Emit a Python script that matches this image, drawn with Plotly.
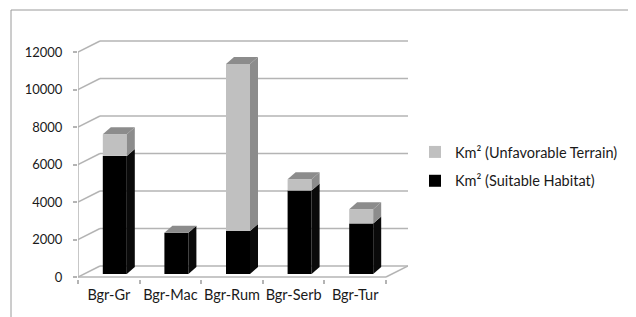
import plotly.graph_objects as go

# ---------------- data ----------------
categories = ["Bgr-Gr", "Bgr-Mac", "Bgr-Rum", "Bgr-Serb", "Bgr-Tur"]
suitable = [6300, 2200, 2300, 4450, 2700]
unfavorable = [1150, 0, 8900, 600, 750]
y_ticks = [0, 2000, 4000, 6000, 8000, 10000, 12000]
series_names = ["Km² (Suitable Habitat)", "Km² (Unfavorable Terrain)"]

# ---------------- geometry (pseudo 3-D) ----------------
PX_PER_CAT = 61.6
PX_PER_UNIT_Y = 225 / 12000


def dxp(px):
    return px / PX_PER_CAT


def dyp(px):
    return px / PX_PER_UNIT_Y


WALL_DX, WALL_DY = dxp(22), dyp(11)
BAR_OFF_X, BAR_OFF_Y = dxp(6), dyp(3)
BAR_W = dxp(24)
DEPTH_X, DEPTH_Y = dxp(8), dyp(7)

PAGE = 8  # page body offset
W, H = 636 - PAGE, 317 - PAGE
ML, MT = 78 - PAGE, 39 - PAGE
plot_w, plot_h = 330, 240
MR = W - ML - plot_w
MB = H - MT - plot_h
x_range = [-0.5, -0.5 + plot_w / PX_PER_CAT]
y_bottom = -dyp(2)
y_range = [y_bottom, y_bottom + dyp(plot_h)]


def px_to_paper_x(px):
    return (px - PAGE - ML) / plot_w


def px_to_paper_y(py):
    return (MT + plot_h - (py - PAGE)) / plot_h


idx = list(range(len(categories)))

BLACK = "#000000"
GRAY = "#c0c0c0"
GRAY_DARK = "#8c8c8c"
GRID = "#b4b4b4"
TEXT = "#1a1a1a"
FONT = "Lato, 'Open Sans', sans-serif"

fig = go.Figure()
fig.add_trace(go.Bar(
    x=idx, y=suitable, base=[BAR_OFF_Y] * len(idx), width=BAR_W,
    offset=BAR_OFF_X - BAR_W / 2, marker=dict(color=BLACK, line=dict(width=0)),
    name=series_names[0], legendgroup="a", legendrank=2,
))
fig.add_trace(go.Bar(
    x=idx, y=unfavorable, base=[BAR_OFF_Y + s for s in suitable], width=BAR_W,
    offset=BAR_OFF_X - BAR_W / 2, marker=dict(color=GRAY, line=dict(width=0)),
    name=series_names[1], legendgroup="b", legendrank=1,
))

shapes = []
# back wall gridlines + connectors
for v in y_ticks:
    shapes.append(dict(type="line", xref="x", yref="y", layer="below",
                       x0=-0.5 + WALL_DX, x1=len(idx) - 0.5 + WALL_DX,
                       y0=v + WALL_DY, y1=v + WALL_DY,
                       line=dict(color=GRID, width=1.5)))
    shapes.append(dict(type="line", xref="x", yref="y", layer="below",
                       x0=-0.5, x1=-0.5 + WALL_DX, y0=v, y1=v + WALL_DY,
                       line=dict(color=GRID, width=1.5)))
# floor front edge and right edge
shapes.append(dict(type="line", xref="x", yref="y", layer="below",
                   x0=-0.5, x1=len(idx) - 0.5, y0=0, y1=0,
                   line=dict(color=GRID, width=1.5)))
shapes.append(dict(type="line", xref="x", yref="y", layer="below",
                   x0=len(idx) - 0.5, x1=len(idx) - 0.5 + WALL_DX, y0=0, y1=WALL_DY,
                   line=dict(color=GRID, width=1.5)))
# front vertical axis line
shapes.append(dict(type="line", xref="x", yref="y", layer="below",
                   x0=-0.5, x1=-0.5, y0=0, y1=y_ticks[-1],
                   line=dict(color=GRID, width=1.5)))

# bar side and top faces
for i, s, u in zip(idx, suitable, unfavorable):
    xr = i + BAR_OFF_X + BAR_W / 2
    xl = xr - BAR_W
    segs = [(BAR_OFF_Y, BAR_OFF_Y + s, "#0a0a0a")]
    if u > 0:
        segs.append((BAR_OFF_Y + s, BAR_OFF_Y + s + u, GRAY_DARK))
    for b, t, col in segs:
        shapes.append(dict(type="path", xref="x", yref="y", layer="above",
                           path=f"M {xr},{b} L {xr + DEPTH_X},{b + DEPTH_Y} "
                                f"L {xr + DEPTH_X},{t + DEPTH_Y} L {xr},{t} Z",
                           fillcolor=col, line=dict(width=0)))
    top = segs[-1][1]
    shapes.append(dict(type="path", xref="x", yref="y", layer="above",
                       path=f"M {xl},{top} L {xr},{top} L {xr + DEPTH_X},{top + DEPTH_Y} "
                            f"L {xl + DEPTH_X},{top + DEPTH_Y} Z",
                       fillcolor=GRAY_DARK, line=dict(width=0)))

# chart-area border
shapes.append(dict(type="rect", xref="paper", yref="paper",
                   x0=px_to_paper_x(11), x1=px_to_paper_x(631),
                   y0=px_to_paper_y(340), y1=px_to_paper_y(10),
                   line=dict(color="#9a9a9a", width=1), fillcolor="rgba(0,0,0,0)",
                   layer="below"))

fig.update_layout(
    width=W, height=H,
    margin=dict(l=ML, r=MR, t=MT, b=MB, autoexpand=False),
    paper_bgcolor="white", plot_bgcolor="white",
    barmode="overlay",
    font=dict(family=FONT, size=14.5, color=TEXT),
    shapes=shapes,
    showlegend=True,
    legend=dict(x=px_to_paper_x(415), y=px_to_paper_y(136),
                xanchor="left", yanchor="top", traceorder="grouped",
                tracegroupgap=7, font=dict(size=14.5, color=TEXT),
                bgcolor="rgba(0,0,0,0)", itemwidth=30),
    xaxis=dict(range=x_range, tickmode="array", tickvals=idx, ticktext=categories,
               ticks="", showgrid=False, zeroline=False, showline=False,
               ticklabelstandoff=5, automargin=False,
               minor=dict(tickmode="array", tickvals=[i - 0.5 for i in idx] + [len(idx) - 0.5],
                          ticks="outside", ticklen=4, tickcolor=GRID, tickwidth=1.5,
                          showgrid=False)),
    yaxis=dict(range=y_range, tickmode="array", tickvals=y_ticks,
               ticktext=[str(v) for v in y_ticks], tickfont=dict(size=13),
               ticks="outside", ticklen=4, tickcolor=GRID, tickwidth=1.5,
               ticklabelstandoff=8, automargin=False,
               showgrid=False, zeroline=False, showline=False),
)

fig.write_html("out.html")
